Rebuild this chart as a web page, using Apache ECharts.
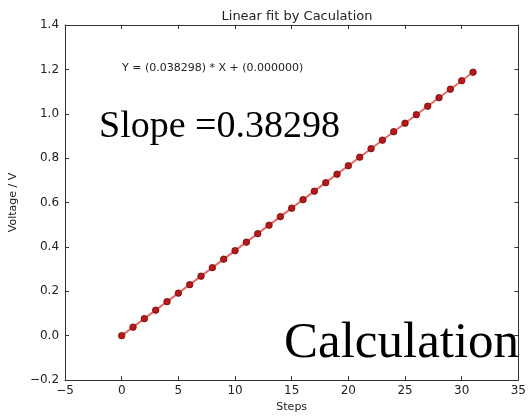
<!DOCTYPE html>
<html><head><meta charset="utf-8">
<script src="https://cdn.jsdelivr.net/npm/echarts@6/dist/echarts.min.js"></script>
<style>html,body{margin:0;padding:0;background:#fff}#c{width:529px;height:418px}</style>
</head><body><div id="c"></div>
<script>
const steps = [0,1,2,3,4,5,6,7,8,9,10,11,12,13,14,15,16,17,18,19,20,21,22,23,24,25,26,27,28,29,30,31];
const voltage = [0,0.038298,0.076596,0.114894,0.153192,0.19149,0.229788,0.268086,0.306384,0.344682,0.38298,0.421278,0.459576,0.497874,0.536172,0.57447,0.612768,0.651066,0.689364,0.727662,0.76596,0.804258,0.842556,0.880854,0.919152,0.95745,0.995748,1.034046,1.072344,1.110642,1.14894,1.187238];
const xTicks = [-5,0,5,10,15,20,25,30,35];
const yTicks = [-0.2,0.0,0.2,0.4,0.6,0.8,1.0,1.2,1.4];
const titleText = 'Linear fit by Caculation';
const eqText = 'Y = (0.038298) * X + (0.000000)';
const slopeText = 'Slope =0.38298';
const calcText = 'Calculation';
const xName = 'Steps', yName = 'Voltage / V';

const chart = echarts.init(document.getElementById('c'));
const axCol = '#333';
const fnt = 'DejaVu Sans';
const minus = s => String(s).replace('-', '\u2212');
const baseX = {type:'value', min:xTicks[0], max:xTicks[xTicks.length-1], interval:5,
  axisLine:{onZero:false, lineStyle:{color:axCol,width:1}}, axisTick:{inside:true,length:4,lineStyle:{color:axCol}},
  splitLine:{show:false}};
const baseY = {type:'value', min:yTicks[0], max:yTicks[yTicks.length-1], interval:0.2,
  axisLine:{onZero:false, lineStyle:{color:axCol,width:1}}, axisTick:{inside:true,length:4,lineStyle:{color:axCol}},
  splitLine:{show:false}};
chart.setOption({
  animation:false,
  title:{text:titleText,left:292,top:5,textAlign:'center',textStyle:{fontFamily:fnt,fontSize:13,fontWeight:'normal',color:'#222'}},
  grid:{left:65,right:5,top:25,bottom:36},
  xAxis:[
    Object.assign({}, baseX, {position:'bottom', name:xName, nameLocation:'middle', nameGap:22,
      nameTextStyle:{fontFamily:fnt,fontSize:11,color:'#222'},
      axisLabel:{fontFamily:fnt,fontSize:12,color:'#222',margin:5,formatter:v=>minus(v)}}),
    Object.assign({}, baseX, {position:'top', axisLabel:{show:false}})
  ],
  yAxis:[
    Object.assign({}, baseY, {position:'left', name:yName, nameLocation:'middle', nameGap:41,
      nameTextStyle:{fontFamily:fnt,fontSize:11,color:'#222'},
      axisLabel:{fontFamily:fnt,fontSize:12,color:'#222',margin:6,formatter:v=>minus(v.toFixed(1))}}),
    Object.assign({}, baseY, {position:'right', axisLabel:{show:false}})
  ],
  series:[{
    type:'line', xAxisIndex:0, yAxisIndex:0,
    data: steps.map((s,i)=>[s, voltage[i]]),
    symbol:'circle', symbolSize:6.5,
    lineStyle:{color:'#e86a6a',width:2},
    itemStyle:{color:'#b81818',borderColor:'#6a0c0c',borderWidth:0.8},
    z:3
  }],
  graphic:[
    {type:'text', left:122, top:63, z:10, style:{text:eqText, font:'11px "DejaVu Sans"', fill:'#222'}},
    {type:'text', left:99, top:108, z:10, style:{text:slopeText, font:'38px "Liberation Serif"', fill:'#000'}},
    {type:'text', left:284, top:318, z:10, style:{text:calcText, font:'51px "Liberation Serif"', fill:'#000'}}
  ]
});
</script></body></html>
